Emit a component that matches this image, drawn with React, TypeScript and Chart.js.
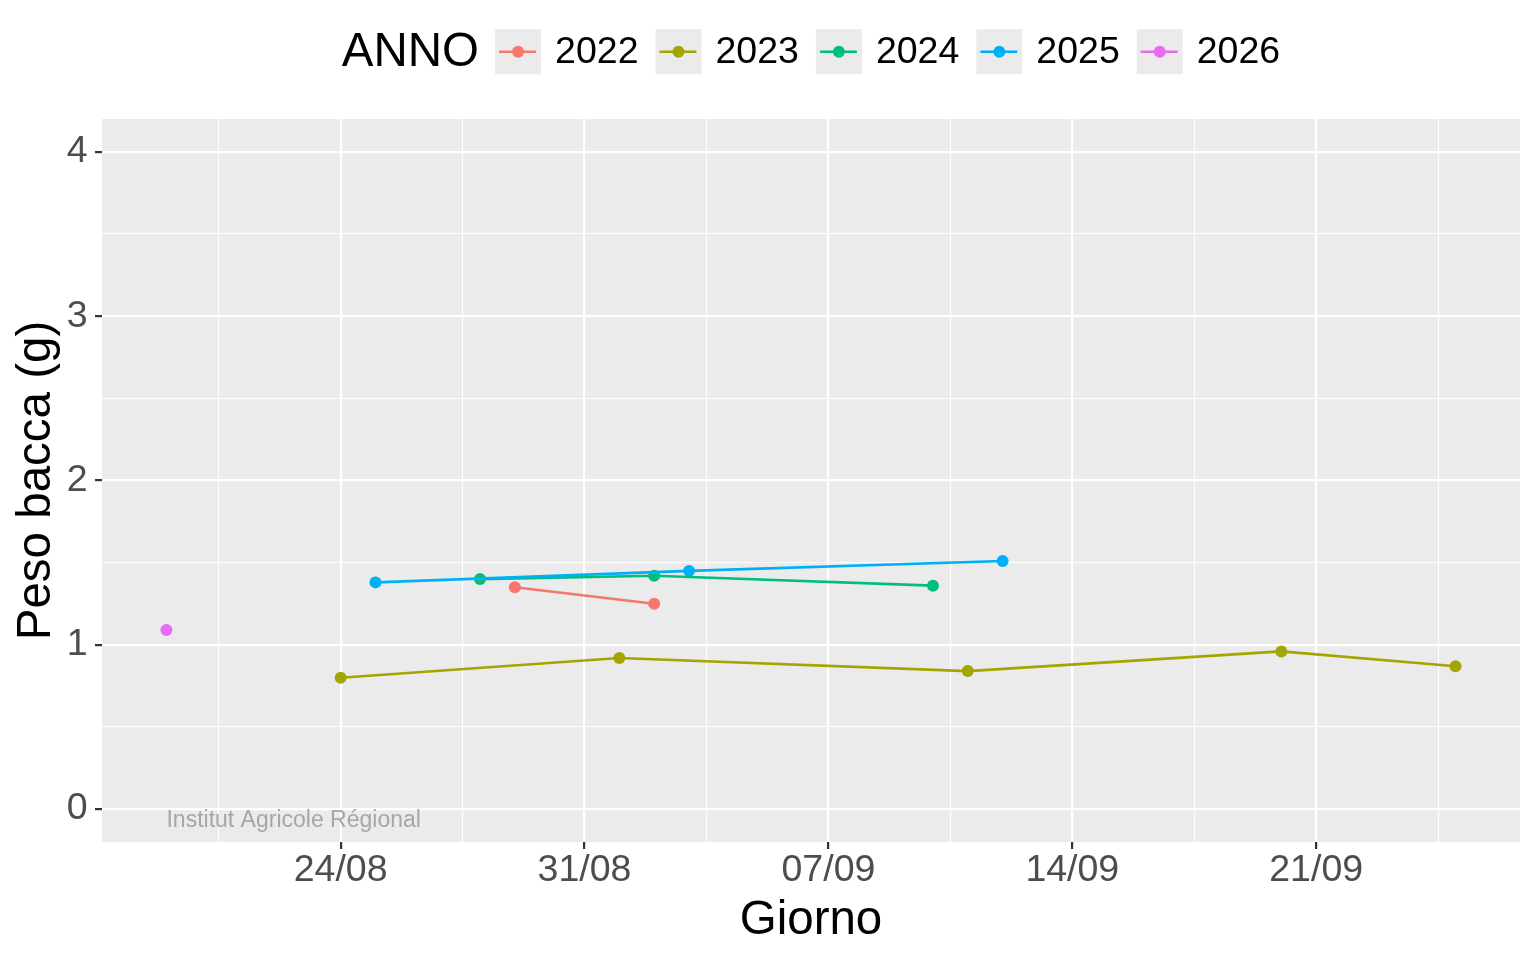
import React, { useEffect, useRef } from 'react';
import { Chart, registerables } from 'chart.js';

Chart.register(...registerables);

const FONT = "'Liberation Sans', Arial, Helvetica, sans-serif";

const YEARS = ['2022', '2023', '2024', '2025', '2026'];
const COLORS = ['#F8766D', '#A3A500', '#00BF7D', '#00B0F6', '#E76BF3'];

const DAYS_2022 = ['29/08', '02/09'];
const PESO_2022 = [1.35, 1.25];
const DAYS_2023 = ['24/08', '01/09', '11/09', '20/09', '25/09'];
const PESO_2023 = [0.8, 0.92, 0.84, 0.96, 0.87];
const DAYS_2024 = ['28/08', '02/09', '10/09'];
const PESO_2024 = [1.4, 1.42, 1.36];
const DAYS_2025 = ['25/08', '03/09', '12/09'];
const PESO_2025 = [1.38, 1.45, 1.51];
const DAYS_2026 = ['19/08'];
const PESO_2026 = [1.09];

const X_TICK_LABELS = ['24/08', '31/08', '07/09', '14/09', '21/09'];
const Y_TICK_LABELS = ['0', '1', '2', '3', '4'];
const Y_LIMITS = [0, 4];

const TITLE_X = 'Giorno';
const TITLE_Y = 'Peso bacca (g)';
const LEGEND_TITLE = 'ANNO';
const WATERMARK = 'Institut Agricole Régional';

const SERIES_DAYS = [DAYS_2022, DAYS_2023, DAYS_2024, DAYS_2025, DAYS_2026];
const SERIES_PESO = [PESO_2022, PESO_2023, PESO_2024, PESO_2025, PESO_2026];

const parseDM = (s: string) => {
  const [d, m] = s.split('/').map(Number);
  return Date.UTC(2000, m - 1, d);
};
const REF = parseDM(X_TICK_LABELS[0]);
const dayNum = (s: string) => Math.round((parseDM(s) - REF) / 86400000);

const X_MAJOR = X_TICK_LABELS.map(dayNum);
const Y_MAJOR = Y_TICK_LABELS.map(Number);

const allDays = SERIES_DAYS.flat().map(dayNum);
const dMin = Math.min(...allDays);
const dMax = Math.max(...allDays);
const X_MIN = dMin - (dMax - dMin) * 0.05;
const X_MAX = dMax + (dMax - dMin) * 0.05;
const Y_MIN = Y_LIMITS[0] - (Y_LIMITS[1] - Y_LIMITS[0]) * 0.05;
const Y_MAX = Y_LIMITS[1] + (Y_LIMITS[1] - Y_LIMITS[0]) * 0.05;

function gridValues(major: number[], min: number, max: number) {
  const step = major[1] - major[0];
  const vals: number[] = [];
  const start = major[0] - step * Math.ceil((major[0] - min) / (step / 2)) / 2;
  for (let v = start; v <= max + 1e-9; v += step / 2) {
    if (v >= min - 1e-9) vals.push(Math.round(v * 1000) / 1000);
  }
  return vals;
}
const X_GRID = gridValues(X_MAJOR, X_MIN, X_MAX);
const Y_GRID = gridValues(Y_MAJOR, Y_MIN, Y_MAX);

const isMajorX = (v: number) => X_MAJOR.some((m) => Math.abs(m - v) < 1e-6);
const isMajorY = (v: number) => Y_MAJOR.some((m) => Math.abs(m - v) < 1e-6);

const PANEL_BG = '#EBEBEB';

const ggPlugin = {
  id: 'ggdecor',
  beforeDraw(chart: any) {
    const { ctx, chartArea: a } = chart;
    ctx.save();
    ctx.fillStyle = '#FFFFFF';
    ctx.fillRect(0, 0, chart.width, chart.height);
    ctx.fillStyle = PANEL_BG;
    ctx.fillRect(a.left, a.top, a.right - a.left, a.bottom - a.top);
    ctx.restore();
  },
  afterDatasetsDraw(chart: any) {
    const { ctx, scales } = chart;
    ctx.save();
    ctx.fillStyle = '#A6A6A6';
    ctx.font = `23px ${FONT}`;
    ctx.textAlign = 'left';
    ctx.textBaseline = 'alphabetic';
    ctx.fillText(WATERMARK, scales.x.getPixelForValue(dMin), scales.y.getPixelForValue(0) + 17.5);
    ctx.restore();
  },
  afterDraw(chart: any) {
    const { ctx, chartArea: a } = chart;
    const cx = (a.left + a.right) / 2;
    ctx.save();
    ctx.fillStyle = '#000000';
    // x title
    ctx.font = `47.5px ${FONT}`;
    ctx.textAlign = 'center';
    ctx.textBaseline = 'alphabetic';
    ctx.fillText(TITLE_X, cx, 934);
    // y title
    ctx.save();
    ctx.translate(50, (a.top + a.bottom) / 2);
    ctx.rotate(-Math.PI / 2);
    ctx.fillText(TITLE_Y, 0, 0);
    ctx.restore();

    // legend
    ctx.font = `47.5px ${FONT}`;
    const titleW = ctx.measureText(LEGEND_TITLE).width;
    ctx.font = `37.5px ${FONT}`;
    const itemW = YEARS.map((y) => ctx.measureText(y).width);
    const keyW = 46;
    const keyH = 45;
    const gapTitle = 16;
    const gapKeyText = 14;
    const gapItem = 17;
    const total =
      titleW + gapTitle + itemW.reduce((s, w) => s + keyW + gapKeyText + w, 0) + gapItem * (YEARS.length - 1);
    let x = cx - total / 2;
    const cy = 51.7;
    ctx.textAlign = 'left';
    ctx.textBaseline = 'middle';
    ctx.font = `47.5px ${FONT}`;
    ctx.fillText(LEGEND_TITLE, x, cy + 1.3);
    x += titleW + gapTitle;
    YEARS.forEach((yr, i) => {
      ctx.fillStyle = PANEL_BG;
      ctx.fillRect(x, cy - keyH / 2, keyW, keyH);
      ctx.strokeStyle = COLORS[i];
      ctx.lineWidth = 2.6;
      ctx.beginPath();
      ctx.moveTo(x + 4, cy);
      ctx.lineTo(x + keyW - 5, cy);
      ctx.stroke();
      ctx.fillStyle = COLORS[i];
      ctx.beginPath();
      ctx.arc(x + keyW / 2, cy, 6, 0, Math.PI * 2);
      ctx.fill();
      x += keyW + gapKeyText;
      ctx.fillStyle = '#000000';
      ctx.font = `37.5px ${FONT}`;
      ctx.fillText(yr, x, cy + 1.3);
      x += itemW[i] + gapItem;
    });
    ctx.restore();
  },
};

export default function App() {
  const ref = useRef<HTMLCanvasElement | null>(null);

  useEffect(() => {
    document.body.style.margin = '0';
    const canvas = ref.current;
    if (!canvas) return;

    const pointSets = YEARS.map((yr, i) => ({
      label: yr + ' points',
      data: SERIES_DAYS[i].map((d, j) => ({ x: dayNum(d), y: SERIES_PESO[i][j] })),
      showLine: false,
      pointRadius: 6,
      pointHoverRadius: 6,
      pointBorderWidth: 0,
      pointBackgroundColor: COLORS[i],
      borderColor: COLORS[i],
      order: 20 - i,
    }));
    const lineSets = YEARS.map((yr, i) => ({
      label: yr,
      data: SERIES_DAYS[i].map((d, j) => ({ x: dayNum(d), y: SERIES_PESO[i][j] })),
      showLine: true,
      pointRadius: 0,
      pointHoverRadius: 0,
      borderColor: COLORS[i],
      borderWidth: 2.6,
      borderCapStyle: 'butt',
      borderJoinStyle: 'round',
      tension: 0,
      order: 10 - i,
    }));

    const tickFont = { family: FONT, size: 37.5, lineHeight: 1 };

    const chart = new Chart(canvas, {
      type: 'scatter',
      data: { datasets: [...lineSets, ...pointSets] as any },
      options: {
        animation: false,
        responsive: false,
        maintainAspectRatio: false,
        devicePixelRatio: 1,
        events: [],
        layout: { padding: { top: 119, right: 16, left: 0, bottom: 0 } },
        plugins: {
          legend: { display: false },
          tooltip: { enabled: false },
          title: { display: false },
        },
        scales: {
          x: {
            type: 'linear',
            position: 'bottom',
            min: X_MIN,
            max: X_MAX,
            afterBuildTicks: (s: any) => {
              s.ticks = X_GRID.map((v) => ({ value: v }));
            },
            afterFit: (s: any) => {
              s.height = 118;
            },
            border: { display: false },
            grid: {
              color: '#FFFFFF',
              lineWidth: (c: any) => (isMajorX(c.tick.value) ? 2.2 : 1.1),
              tickColor: (c: any) => (isMajorX(c.tick.value) ? '#333333' : 'rgba(0,0,0,0)'),
              tickWidth: 2.2,
              tickLength: 7,
              drawTicks: true,
            },
            ticks: {
              autoSkip: false,
              maxRotation: 0,
              minRotation: 0,
              padding: 2.5,
              color: '#4D4D4D',
              font: tickFont,
              callback: (v: any) => {
                const idx = X_MAJOR.findIndex((m) => Math.abs(m - Number(v)) < 1e-6);
                return idx >= 0 ? X_TICK_LABELS[idx] : '';
              },
            },
          },
          y: {
            type: 'linear',
            position: 'left',
            min: Y_MIN,
            max: Y_MAX,
            afterBuildTicks: (s: any) => {
              s.ticks = Y_GRID.map((v) => ({ value: v }));
            },
            afterFit: (s: any) => {
              s.width = 102;
            },
            border: { display: false },
            grid: {
              color: '#FFFFFF',
              lineWidth: (c: any) => (isMajorY(c.tick.value) ? 2.2 : 1.1),
              tickColor: (c: any) => (isMajorY(c.tick.value) ? '#333333' : 'rgba(0,0,0,0)'),
              tickWidth: 2.2,
              tickLength: 7,
              drawTicks: true,
            },
            ticks: {
              autoSkip: false,
              padding: 7.5,
              color: '#4D4D4D',
              font: tickFont,
              callback: (v: any) => {
                const idx = Y_MAJOR.findIndex((m) => Math.abs(m - Number(v)) < 1e-6);
                return idx >= 0 ? Y_TICK_LABELS[idx] : '';
              },
            },
          },
        },
      } as any,
      plugins: [ggPlugin],
    });

    return () => {
      chart.destroy();
    };
  }, []);

  return (
    <div style={{ position: 'absolute', left: 0, top: 0, width: 1536, height: 960, background: '#FFFFFF' }}>
      <canvas ref={ref} width={1536} height={960} style={{ width: 1536, height: 960, display: 'block' }} />
    </div>
  );
}
